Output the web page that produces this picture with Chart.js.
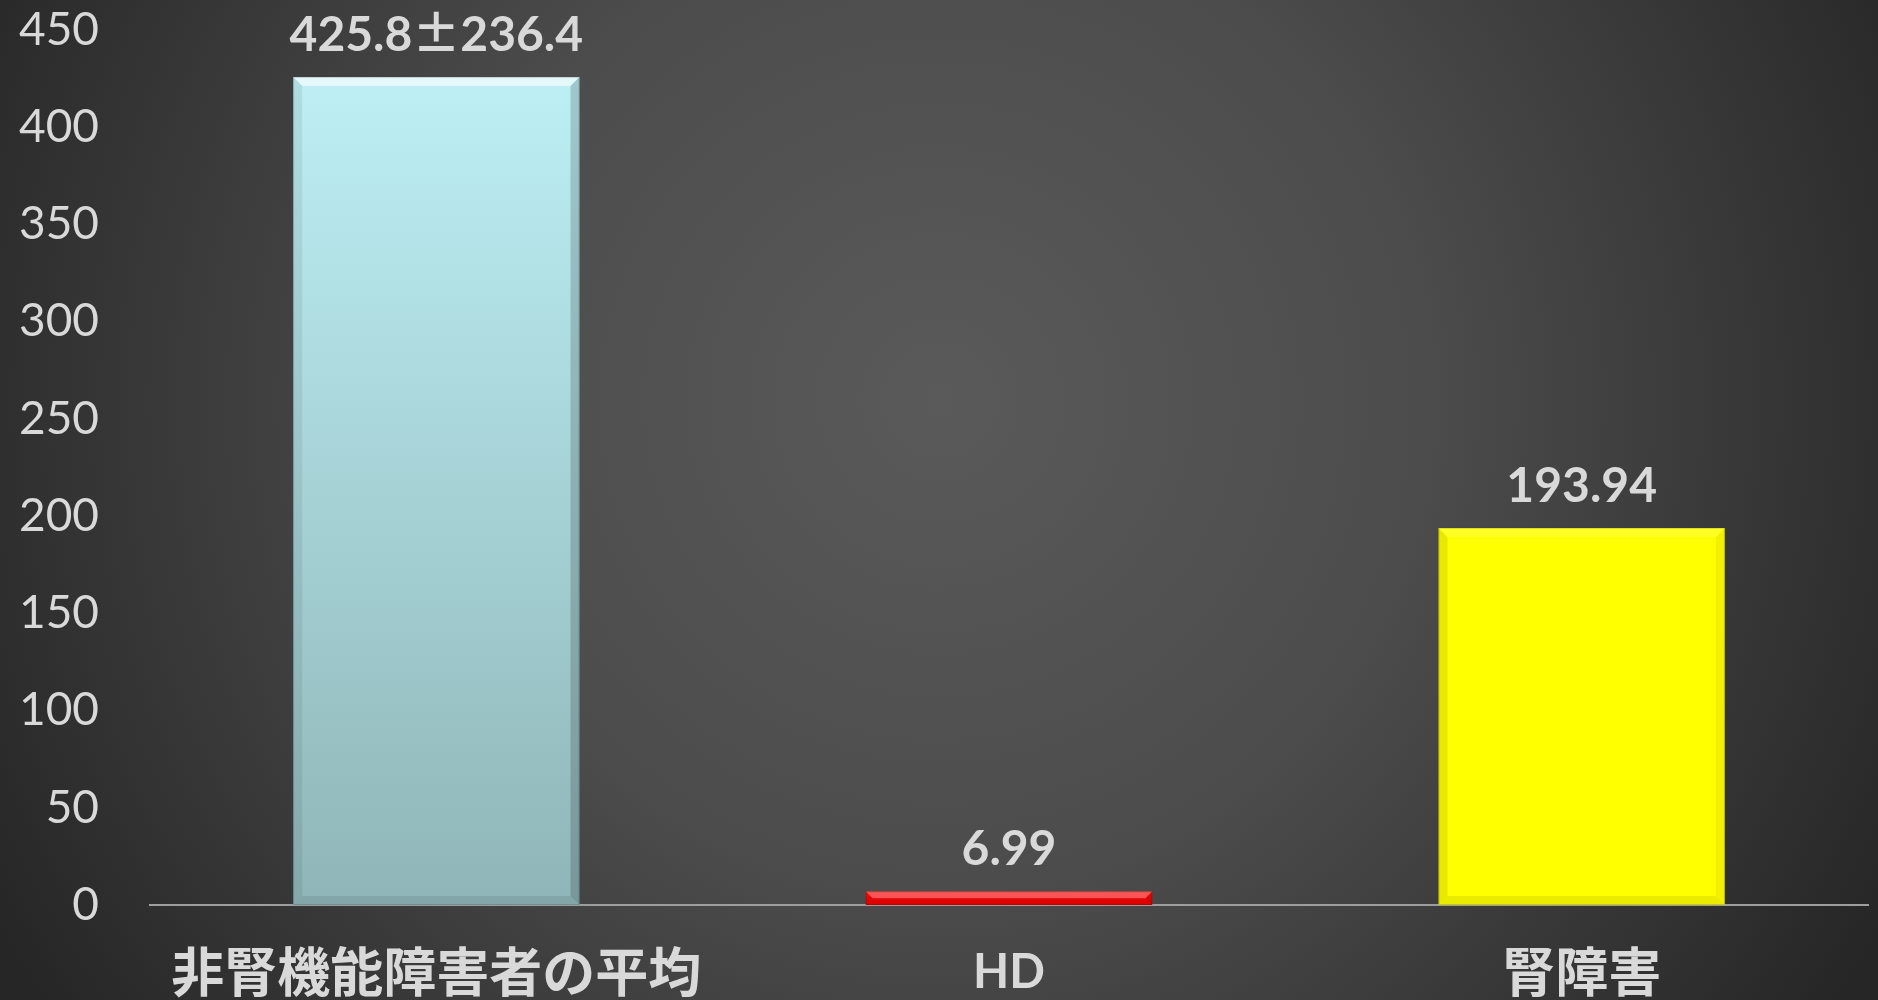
<!DOCTYPE html>
<html>
<head>
<meta charset="utf-8">
<script src="https://cdn.jsdelivr.net/npm/chart.js@4/dist/chart.umd.min.js"></script>
<style>
  html, body { margin: 0; padding: 0; background: #262626; overflow: hidden; }
  canvas { display: block; }
</style>
</head>
<body>
<canvas id="chart" width="1878" height="1000"></canvas>
<script>
// Categories and measured values
const categories = ['非腎機能障害者の平均', 'HD', '腎障害'];
const values = [425.8, 6.99, 193.94];
const spread = [236.4, null, null];   // ± figure shown beside the mean
const yTickValues = [0, 50, 100, 150, 200, 250, 300, 350, 400, 450];

// Bar looks
const barTop = ['#bdeff4', '#ff1010', '#ffff00'];
const barBottom = ['#8fb5b8', '#ee0000', '#ffff00'];
const rightShade = ['rgba(0,0,0,0.16)', 'rgba(0,0,0,0.14)', 'rgba(0,0,0,0.05)'];
const leftShade = ['rgba(0,0,0,0.07)', 'rgba(0,0,0,0.07)', 'rgba(0,0,0,0.09)'];
const topShine = ['rgba(255,255,255,0.6)', 'rgba(255,255,255,0.3)', 'rgba(255,255,255,0.15)'];
const textColor = '#d9d9d9';

const latin = 'Lato, "Noto Sans", sans-serif';
const cjk = '"Noto Sans CJK JP", "Noto Sans CJK SC", sans-serif';
const hasCJK = s => /[\u3040-\u30ff\u4e00-\u9fff]/.test(s);

// Caption pieces: mean, then "±" and the spread when there is one
function captionParts(i) {
  const parts = [{ text: `${values[i]}`, font: `bold 48px ${latin}` }];
  if (spread[i] != null) {
    parts.push({ text: '±', font: `bold 48px ${cjk}` });
    parts.push({ text: `${spread[i]}`, font: `bold 48px ${latin}` });
  }
  return parts;
}

// Dark slide backdrop with a soft light spot in the middle
const backdrop = {
  id: 'backdrop',
  beforeDraw(chart) {
    const { ctx, width, height } = chart;
    const g = ctx.createRadialGradient(940, 400, 0, 940, 400, 1080);
    g.addColorStop(0, '#5a5a5a');
    g.addColorStop(0.45, '#4c4c4c');
    g.addColorStop(1, '#262626');
    ctx.save();
    ctx.fillStyle = g;
    ctx.fillRect(0, 0, width, height);
    ctx.restore();
  }
};

function poly(ctx, pts, color) {
  ctx.beginPath();
  ctx.moveTo(pts[0][0], pts[0][1]);
  for (let k = 1; k < pts.length; k++) ctx.lineTo(pts[k][0], pts[k][1]);
  ctx.closePath();
  ctx.fillStyle = color;
  ctx.fill();
}

// Bevelled edges on each bar plus the value caption above it
const bevelAndCaptions = {
  id: 'bevelAndCaptions',
  afterDatasetsDraw(chart) {
    const ctx = chart.ctx;
    const meta = chart.getDatasetMeta(0);
    ctx.save();
    meta.data.forEach((bar, i) => {
      const { x, y, base, width } = bar.getProps(['x', 'y', 'base', 'width'], true);
      const l = x - width / 2, r = x + width / 2;
      const t = Math.min(y, base), b = Math.max(y, base);
      const d = Math.min(9, (b - t) / 2);
      poly(ctx, [[l, t], [r, t], [r - d, t + d], [l + d, t + d]], topShine[i]);
      poly(ctx, [[l, t], [l + d, t + d], [l + d, b - d], [l, b]], leftShade[i]);
      poly(ctx, [[r, t], [r, b], [r - d, b - d], [r - d, t + d]], rightShade[i]);
      poly(ctx, [[l, b], [r, b], [r - d, b - d], [l + d, b - d]], 'rgba(0,0,0,0.08)');
      ctx.strokeStyle = 'rgba(0,0,0,0.15)';
      ctx.lineWidth = 1;
      ctx.strokeRect(l + 0.5, t + 0.5, width - 1, b - t - 1);

      // caption, centred over the bar
      const parts = captionParts(i);
      let total = 0;
      parts.forEach(p => { ctx.font = p.font; p.w = ctx.measureText(p.text).width; total += p.w; });
      let cx = x - total / 2;
      ctx.fillStyle = textColor;
      ctx.textAlign = 'left';
      ctx.textBaseline = 'alphabetic';
      parts.forEach(p => { ctx.font = p.font; ctx.fillText(p.text, cx, y - 26); cx += p.w; });
    });
    ctx.restore();
  }
};

function draw() {
  new Chart(document.getElementById('chart'), {
    type: 'bar',
    data: {
      labels: categories,
      datasets: [{
        data: values,
        backgroundColor(c) {
          const i = c.dataIndex;
          const area = c.chart.chartArea;
          if (!area || i == null) return barTop[0];
          const ys = c.chart.scales.y;
          const g = c.chart.ctx.createLinearGradient(0, ys.getPixelForValue(values[i]), 0, ys.getPixelForValue(0));
          g.addColorStop(0, barTop[i]);
          g.addColorStop(1, barBottom[i]);
          return g;
        },
        borderWidth: 0,
        barPercentage: 0.5,
        categoryPercentage: 1.0
      }]
    },
    options: {
      responsive: false,
      animation: false,
      devicePixelRatio: 1,
      layout: { padding: { top: 0, right: 10, left: 0, bottom: 0 } },
      plugins: { legend: { display: false }, tooltip: { enabled: false } },
      scales: {
        x: {
          z: 1,
          grid: { display: false, drawTicks: false },
          border: { display: true, color: '#9e9e9e', width: 2 },
          ticks: {
            autoSkip: false,
            maxRotation: 0,
            padding: 35,
            color: textColor,
            font(c) {
              const label = categories[c.index] || '';
              return hasCJK(label)
                ? { family: cjk, size: 53, weight: 'bold', lineHeight: 1.2 }
                : { family: latin, size: 47, weight: 'bold', lineHeight: 1.38 };
            }
          },
          afterFit(scale) { scale.height = 95; }
        },
        y: {
          min: yTickValues[0],
          max: yTickValues[yTickValues.length - 1],
          grid: { display: false, drawTicks: false },
          border: { display: false },
          ticks: {
            stepSize: yTickValues[1] - yTickValues[0],
            padding: 51,
            color: textColor,
            font: { family: latin, size: 46, lineHeight: 1.2 }
          },
          afterFit(scale) {
            scale.width = 150;
            scale.paddingTop = 30;
            scale.paddingBottom = 0;
          }
        }
      }
    },
    plugins: [backdrop, bevelAndCaptions]
  });
}

Promise.all([
  document.fonts.load(`46px ${latin}`),
  document.fonts.load(`bold 48px ${latin}`),
  document.fonts.load(`bold 53px ${cjk}`, '非腎機能障害者の平均±')
]).then(draw, draw);
</script>
</body>
</html>
